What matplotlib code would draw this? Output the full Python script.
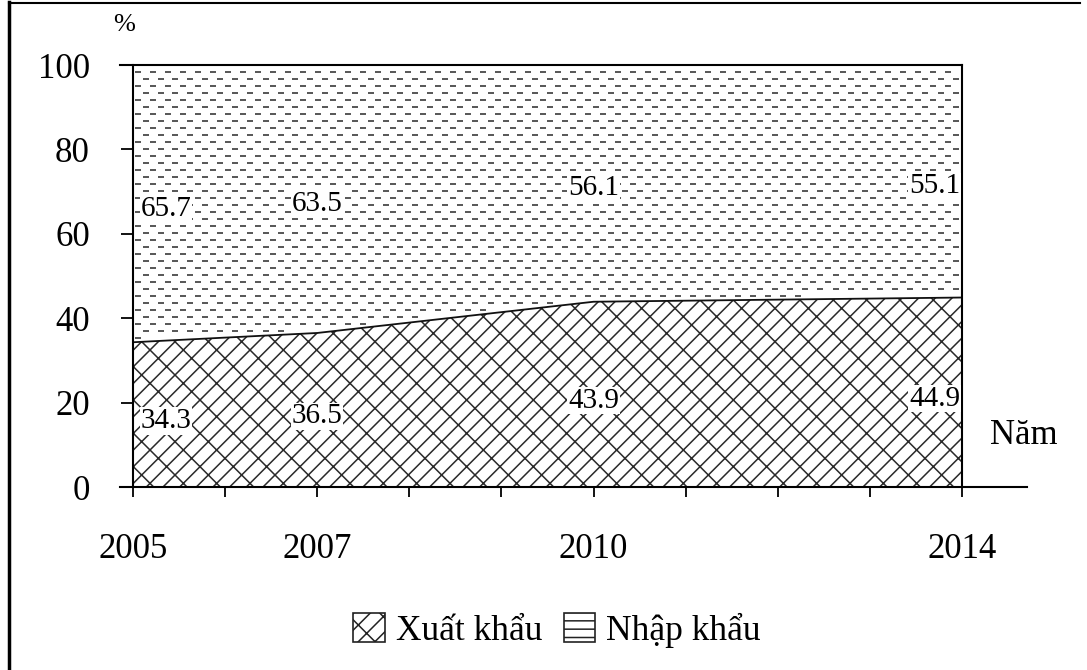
import numpy as np
import matplotlib
matplotlib.use("Agg")
import matplotlib.pyplot as plt
from matplotlib.patches import Patch
from matplotlib.lines import Line2D

# ---- data ----
years = [2005, 2007, 2010, 2014]
export_share = [34.3, 36.5, 43.9, 44.9]
import_share = [65.7, 63.5, 56.1, 55.1]
year_ticks = [2005, 2006, 2007, 2008, 2009, 2010, 2011, 2012, 2013, 2014]
year_labels = ["2005", "", "2007", "", "", "2010", "", "", "", "2014"]
y_ticks = [0, 20, 40, 60, 80, 100]
series_names = ["Xuất khẩu", "Nhập khẩu"]

plt.rcParams['font.family'] = ['Liberation Serif', 'DejaVu Serif']
plt.rcParams['hatch.linewidth'] = 1.1

W, H = 1087, 670
fig = plt.figure(figsize=(W / 100, H / 100), dpi=100)
fig.patch.set_facecolor('white')

def fx(px):
    return px / W

def fy(py):
    return 1 - py / H

ax = fig.add_axes([fx(133), fy(487), fx(962) - fx(133), fy(65) - fy(487)])
ax.set_xlim(2005, 2014)
ax.set_ylim(0, 100)

x = np.array(years, dtype=float)
exp = np.array(export_share)
imp = np.array(import_share)
top = exp + imp

# export area (diagonal brick-like hatch)
ax.fill_between(x, 0, exp, facecolor='white', edgecolor='#2a2a2a',
                hatch='//\\', linewidth=0)
# import area (white, dashed texture)
poly = ax.fill_between(x, exp, top, facecolor='white', edgecolor='none', linewidth=0)
ax.plot(x, exp, color='#111111', linewidth=1.3)

# dashed texture within import area (pattern spacing in pixels)
xs_px = np.arange(138, 970, 15.0)
ys_px = np.arange(72, 487, 7.0)
pts_x, pts_y = [], []
for i, yp in enumerate(ys_px):
    off = 7.5 if i % 2 else 0.0
    for xp in xs_px:
        pts_x.append(xp + off)
        pts_y.append(yp)
pts = ax.transData.inverted().transform(
    fig.transFigure.transform(np.column_stack([np.array(pts_x) / W, 1 - np.array(pts_y) / H])))
inside = (pts[:, 0] <= 2014) & (pts[:, 1] > np.interp(pts[:, 0], x, exp) + 0.8)
pts = pts[inside]
sc = ax.scatter(pts[:, 0], pts[:, 1], marker='_', s=15, linewidths=1.4, color='#5a5a5a', zorder=2)
sc.set_clip_path(poly.get_paths()[0], ax.transData)

# spines
for s in ['top', 'bottom']:
    ax.spines[s].set_visible(False)
ax.spines['left'].set_linewidth(1.5)
ax.spines['right'].set_linewidth(1.5)
ax.plot([-13 / 829, 1.0], [1, 1], transform=ax.transAxes, color='black', lw=1.5, clip_on=False)
ax.plot([-13 / 829, 1.078], [0, 0], transform=ax.transAxes, color='black', lw=1.5, clip_on=False)

ax.set_xticks(year_ticks)
ax.set_xticklabels(year_labels)
ax.set_yticks(y_ticks)
ax.set_yticklabels([str(v) for v in y_ticks])
ax.tick_params(axis='x', direction='out', length=7, width=1.3, pad=26, labelsize=25)
ax.tick_params(axis='y', direction='out', length=9, width=1.3, pad=22, labelsize=25)

# value labels
bbox = dict(facecolor='white', edgecolor='none', pad=0.5)
for i, yr in enumerate(years):
    if i == 0:
        ha, xx = 'left', yr + 0.08
    elif i == len(years) - 1:
        ha, xx = 'right', yr - 0.02
    else:
        ha, xx = 'center', yr
    ax.text(xx, exp[i] / 2 - 1.5, f"{exp[i]:.1f}", ha=ha, va='center', fontsize=21, bbox=bbox, zorder=5)
    ax.text(xx, exp[i] + imp[i] / 2 - 1.2, f"{imp[i]:.1f}", ha=ha, va='center', fontsize=21, bbox=bbox, zorder=5)

fig.text(fx(124), fy(25), "%", ha='center', va='center', fontsize=19)
fig.text(fx(1024), fy(435), "Năm", ha='center', va='center', fontsize=25)

handles = [Patch(facecolor='white', edgecolor='#222222', hatch='//\\', linewidth=1.2),
           Patch(facecolor='white', edgecolor='#222222', hatch='--', linewidth=1.2)]
fig.legend(handles, series_names, loc='center', bbox_to_anchor=(fx(557), fy(630)), ncol=2,
           frameon=False, fontsize=25.5, handlelength=0.9, handleheight=0.9,
           handletextpad=0.3, columnspacing=0.6)

# outer frame (left and top)
fig.add_artist(Line2D([fx(9), fx(9)], [0, fy(2)], color='black', lw=2.5))
fig.add_artist(Line2D([fx(9), fx(1080)], [fy(3), fy(3)], color='black', lw=1.5))

fig.savefig("out.png", dpi=100)
